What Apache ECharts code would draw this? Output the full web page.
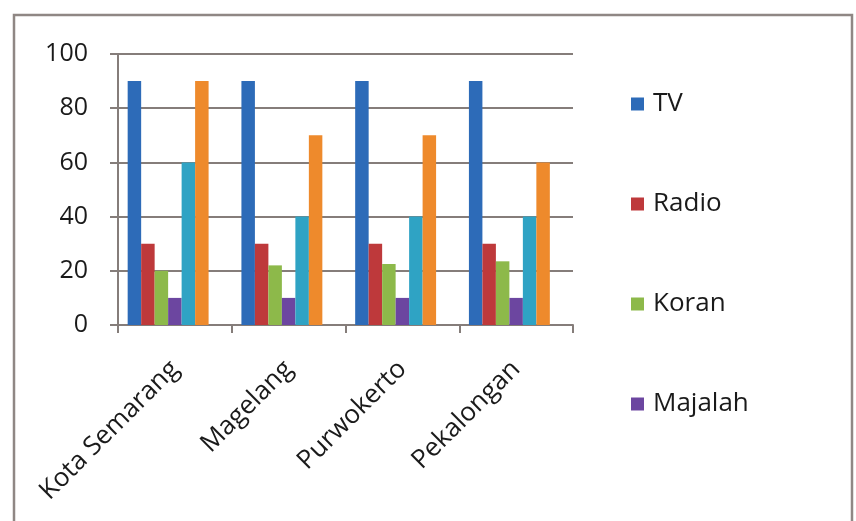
<!DOCTYPE html>
<html>
<head>
<meta charset="utf-8">
<script src="https://cdn.jsdelivr.net/npm/echarts@6/dist/echarts.min.js"></script>
<style>
  html, body { margin: 0; padding: 0; background: #ffffff; }
  #chart { width: 856px; height: 521px; }
</style>
</head>
<body>
<div id="chart"></div>
<script>
// Media usage by city
const cities = ['Kota Semarang', 'Magelang', 'Purwokerto', 'Pekalongan'];
const yTicks = [0, 20, 40, 60, 80, 100];

const tv      = [90, 90, 90, 90];
const radio   = [30, 30, 30, 30];
const koran   = [20, 22, 22.5, 23.5];
const majalah = [10, 10, 10, 10];
const internet = [60, 40, 40, 40];
const lainnya  = [90, 70, 70, 60];
const kosong   = [null, null, null, null]; // empty seventh slot in each cluster

const legendNames = ['TV', 'Radio', 'Koran', 'Majalah'];

const seriesDefs = [
  { name: 'TV', data: tv, color: '#2d6bb8' },
  { name: 'Radio', data: radio, color: '#be393b' },
  { name: 'Koran', data: koran, color: '#8db94a' },
  { name: 'Majalah', data: majalah, color: '#6c46a0' },
  { name: 'Internet', data: internet, color: '#2fa3c4' },
  { name: 'Lainnya', data: lainnya, color: '#ee8a2c' },
  { name: 'Kosong', data: kosong, color: '#ffffff' }
];

const FONT = '"Open Sans", Lato, sans-serif';
const lineColor = '#857d7a';

const chart = echarts.init(document.getElementById('chart'), null, { renderer: 'canvas' });

chart.setOption({
  animation: false,
  backgroundColor: '#ffffff',
  textStyle: { fontFamily: FONT },
  graphic: [{
    type: 'rect',
    shape: { x: 14, y: 15, width: 838, height: 520 },
    style: { fill: 'none', stroke: '#8f8784', lineWidth: 2.5 },
    silent: true
  }],
  grid: { left: 118, right: 283, top: 54, bottom: 196 },
  legend: {
    data: legendNames,
    orient: 'vertical',
    left: 631,
    top: 91,
    padding: 0,
    icon: 'rect',
    itemWidth: 13,
    itemHeight: 13,
    itemGap: 74,
    textStyle: { fontFamily: FONT, fontSize: 26, color: '#1a1a1a', padding: [0, 0, 0, 4] }
  },
  xAxis: {
    type: 'category',
    data: cities,
    boundaryGap: true,
    axisLine: { show: true, lineStyle: { color: lineColor, width: 2 } },
    axisTick: { show: true, length: 8, inside: false, lineStyle: { color: lineColor, width: 2 } },
    axisLabel: {
      rotate: 45,
      margin: 40,
      fontFamily: FONT,
      fontSize: 26,
      color: '#1a1a1a',
      interval: 0
    }
  },
  yAxis: {
    type: 'value',
    min: yTicks[0],
    max: yTicks[yTicks.length - 1],
    interval: yTicks[1] - yTicks[0],
    axisLine: { show: true, lineStyle: { color: lineColor, width: 2 } },
    axisTick: { show: true, length: 8, inside: false, lineStyle: { color: lineColor, width: 2 } },
    splitLine: { show: true, lineStyle: { color: lineColor, width: 2 } },
    axisLabel: {
      margin: 30,
      fontFamily: FONT,
      fontSize: 25,
      color: '#1a1a1a'
    }
  },
  series: seriesDefs.map(s => ({
    type: 'bar',
    name: s.name,
    data: s.data,
    barGap: '0%',
    barCategoryGap: '17%',
    itemStyle: { color: s.color },
    z: 3
  }))
});
</script>
</body>
</html>
